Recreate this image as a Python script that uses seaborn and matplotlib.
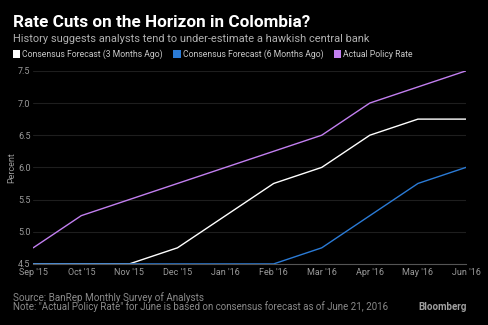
import matplotlib
matplotlib.use("Agg")
import matplotlib.pyplot as plt
import seaborn as sns
import pandas as pd

months = ["Sep '15", "Oct '15", "Nov '15", "Dec '15", "Jan '16", "Feb '16",
          "Mar '16", "Apr '16", "May '16", "Jun '16"]
forecast_3m = [4.5, 4.5, 4.5, 4.75, 5.25, 5.75, 6.0, 6.5, 6.75, 6.75]
forecast_6m = [4.5, 4.5, 4.5, 4.5, 4.5, 4.5, 4.75, 5.25, 5.75, 6.0]
actual_rate = [4.75, 5.25, 5.5, 5.75, 6.0, 6.25, 6.5, 7.0, 7.25, 7.5]
yticks = [4.5, 5.0, 5.5, 6.0, 6.5, 7.0, 7.5]

series_names = ["Consensus Forecast (3 Months Ago)", "Consensus Forecast (6 Months Ago)", "Actual Policy Rate"]
colors = ["#ffffff", "#2b7bd6", "#c27ff0"]

df = pd.DataFrame({
    "month": list(range(len(months))) * 3,
    "value": forecast_3m + forecast_6m + actual_rate,
    "series": [series_names[0]] * len(months) + [series_names[1]] * len(months) + [series_names[2]] * len(months),
})

sns.set_style("dark")
plt.rcParams['font.family'] = ['Roboto', 'DejaVu Sans']

fig = plt.figure(figsize=(4.88, 3.25), dpi=100, facecolor="black")
ax = fig.add_axes([0.068, 0.188, 0.887, 0.594])
ax.set_facecolor("black")

sns.lineplot(data=df, x="month", y="value", hue="series", hue_order=[series_names[2], series_names[0], series_names[1]],
             palette={series_names[0]: colors[0], series_names[1]: colors[1], series_names[2]: colors[2]},
             linewidth=1.0, ax=ax, legend=False)

ax.set_xlim(0, len(months) - 1)
ax.set_ylim(4.5, 7.5)
ax.set_yticks(yticks)
ax.set_yticklabels([f"{v:.1f}" for v in yticks], color="#9a9a9a", fontsize=6.5)
ax.set_xticks(range(len(months)))
ax.set_xticklabels(months, color="#9a9a9a", fontsize=6.5)
ax.tick_params(axis="x", length=2, color="#555555", pad=1)
ax.tick_params(axis="y", length=0, pad=11)
for lab in ax.get_yticklabels():
    lab.set_horizontalalignment("left")
ax.grid(axis="y", color="#1e1e1e", linewidth=0.8)
ax.grid(axis="x", visible=False)
for s in ["top", "right", "left"]:
    ax.spines[s].set_visible(False)
ax.spines["bottom"].set_visible(True)
ax.spines["bottom"].set_color("#555555")
ax.spines["bottom"].set_linewidth(0.8)
ax.set_xlabel("")
ax.set_ylabel("Percent", color="#9a9a9a", fontsize=6.5, labelpad=1)

fig.text(0.026, 0.917, "Rate Cuts on the Horizon in Colombia?", color="white",
         fontsize=12.3, fontweight="bold", va="baseline")
fig.text(0.026, 0.872, "History suggests analysts tend to under-estimate a hawkish central bank",
         color="#b0b0b0", fontsize=7.9, va="baseline")

lx = [0.026, 0.355, 0.684]
for x, name, c in zip(lx, series_names, colors):
    fig.patches.append(plt.Rectangle((x, 0.822), 0.015, 0.024, transform=fig.transFigure,
                                     facecolor=c, edgecolor="none"))
    fig.text(x + 0.019, 0.833, name, color="#c8c8c8", fontsize=6.2, va="center")

fig.text(0.026, 0.075, "Source: BanRep Monthly Survey of Analysts", color="#8a8a8a", fontsize=7.1, va="baseline")
fig.text(0.026, 0.045, "Note: \"Actual Policy Rate\" for June is based on consensus forecast as of June 21, 2016",
         color="#8a8a8a", fontsize=7.0, va="baseline")
fig.text(0.957, 0.045, "Bloomberg", color="#a0a0a0", fontsize=7, fontweight="bold", va="baseline", ha="right")

fig.savefig("out.png", dpi=100, facecolor="black")
